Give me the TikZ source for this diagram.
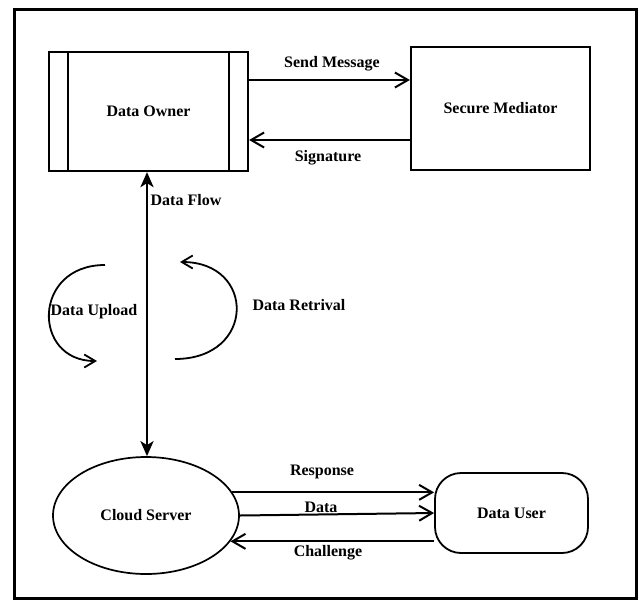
\documentclass[tikz,border=0pt]{standalone}
\usepackage{fontspec}
\setmainfont{Liberation Serif}
\usetikzlibrary{arrows.meta,shapes.geometric}
\begin{document}
\begin{tikzpicture}[x=1pt,y=-1pt,
  every node/.style={font=\fontsize{16}{19}\selectfont\bfseries},
  boxnode/.style={draw,line width=2.2pt,inner sep=0pt},
  lbl/.style={inner sep=0pt},
  barb/.style={line width=2pt,-{Straight Barb[length=13pt,width=15pt,line width=2pt]}},
  arcbarb/.style={line width=1.8pt,-{Straight Barb[length=11pt,width=13pt,line width=1.8pt]}},
  flow/.style={line width=2.8pt,{Stealth[length=15pt,width=13pt,inset=4pt]}-{Stealth[length=15pt,width=13pt,inset=4pt]}}]
\useasboundingbox (0,0) rectangle (639,600);
% outer frame
\draw[line width=3pt] (14,9) rectangle (636,598);
% nodes
\node[boxnode,minimum width=199pt,minimum height=119pt] (owner) at (148.5,111.5) {Data Owner};
\draw[line width=2.2pt] ([xshift=20pt]owner.north west) -- ([xshift=20pt]owner.south west);
\draw[line width=2.2pt] ([xshift=-20pt]owner.north east) -- ([xshift=-20pt]owner.south east);
\node[boxnode,minimum width=179pt,minimum height=123pt] (med) at (500.5,108.5) {Secure Mediator};
\node[boxnode,line width=1.7pt,ellipse,minimum width=186pt,minimum height=117pt] (cloud) at (146,515.5) {Cloud Server};
\node[boxnode,line width=1.8pt,rounded corners=26pt,minimum width=153pt,minimum height=80pt] (user) at (511.5,513) {Data User};
% top connectors
\draw[barb] (owner.east |- 0,80) -- (med.west |- 0,80);
\draw[barb] (med.west |- 0,140) -- (owner.east |- 0,140);
\node[lbl] (lsend) at (332,64) {Send Message};
\node[lbl] (lsig) at (328,158) {Signature};
% data flow
\draw[flow] (owner.south -| 147,0) -- (cloud.north -| 147,0);
\node[lbl] (lflow) at (186,200) {Data Flow};
% circular arcs
\coordinate (u1) at (105,265);
\coordinate (u2) at (97,361);
\draw[arcbarb] (u1) .. controls (32,265) and (32,361) .. (u2);
\node[lbl] (lup) at (94,312) {Data Upload};
\coordinate (r1) at (175,359);
\coordinate (r2) at (180,262);
\draw[arcbarb] (r1) .. controls (256,359) and (256,262) .. (r2);
\node[lbl] (lret) at (299,305) {Data Retrival};
% bottom connectors
\draw[barb] (cloud.15) -- (cloud.15 -| user.west);
\draw[barb] (cloud.east) -- (user.west);
\draw[barb] (cloud.-17 -| user.west) -- (cloud.-17);
\node[lbl] (lresp) at (322,472) {Response};
\node[lbl] (ldata) at (321,507) {Data};
\node[lbl] (lch) at (328,553) {Challenge};
\end{tikzpicture}
\end{document}
